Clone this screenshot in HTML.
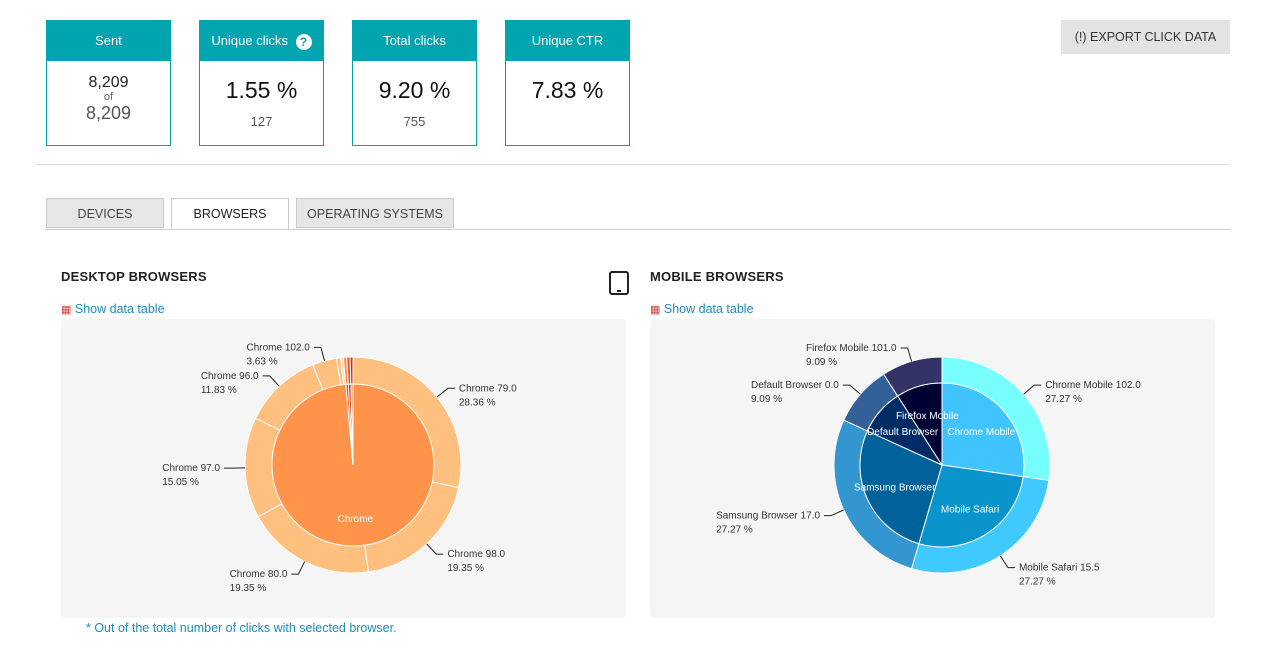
<!DOCTYPE html>
<html><head><meta charset="utf-8"><style>
body{margin:0;width:1268px;height:654px;background:#fff;font-family:"Liberation Sans",sans-serif;position:relative;overflow:hidden;color:#222}
.card{position:absolute;top:20px;width:123px;height:124px;border:1px solid #00a5b0;background:#fff}
.card .h{height:40px;background:#00a5b0;color:#fff;font-size:13px;text-align:center;line-height:40px}
.card .v{text-align:center;font-size:23px;color:#111;margin-top:16px}
.card .s{text-align:center;font-size:13px;color:#555;margin-top:10px}
.tab{position:absolute;top:198px;height:30px;line-height:31px;text-align:center;font-size:12.5px;color:#444;border:1px solid #ccc;box-sizing:border-box}
.ttl{position:absolute;top:269px;font-size:13px;font-weight:bold;color:#222;letter-spacing:.2px}
.lnk{position:absolute;top:302px;font-size:12.5px;color:#1a8cbf}
.panel{position:absolute;top:319px;width:565px;height:299px;background:#f5f5f5;border-radius:4px}
</style></head><body>
<div class="card" style="left:46px"><div class="h">Sent</div>
<div style="text-align:center;font-size:16px;margin-top:13px;color:#222">8,209</div><div style="text-align:center;font-size:11px;color:#666;line-height:11px">of</div><div style="text-align:center;font-size:18px;color:#555">8,209</div></div>
<div class="card" style="left:199px"><div class="h">Unique clicks <span style="display:inline-block;width:16px;height:16px;border-radius:50%;background:#fff;color:#00a5b0;font-size:12px;line-height:16px;font-weight:bold;vertical-align:middle;margin-left:4px">?</span></div><div class="v">1.55 %</div><div class="s">127</div></div>
<div class="card" style="left:352px"><div class="h">Total clicks</div><div class="v">9.20 %</div><div class="s">755</div></div>
<div class="card" style="left:505px"><div class="h">Unique CTR</div><div class="v">7.83 %</div></div>
<div style="position:absolute;left:1061px;top:20px;width:169px;height:34px;background:#e3e3e3;font-size:12.5px;color:#333;text-align:center;line-height:34px">(!) EXPORT CLICK DATA</div>
<div style="position:absolute;left:36px;top:164px;width:1195px;height:1px;background:#ddd"></div>
<div class="tab" style="left:46px;width:118px;background:#e6e6e6">DEVICES</div>
<div class="tab" style="left:171px;width:118px;background:#fff;border-bottom:none;height:31px;color:#222">BROWSERS</div>
<div class="tab" style="left:296px;width:158px;background:#e6e6e6">OPERATING SYSTEMS</div>
<div style="position:absolute;left:46px;top:229px;width:1185px;height:1px;background:#ccc"></div>
<div class="ttl" style="left:61px">DESKTOP BROWSERS</div>
<div class="ttl" style="left:650px">MOBILE BROWSERS</div>
<div style="position:absolute;left:609px;top:271px;width:16px;height:20px;border:2px solid #222;border-radius:3px"><div style="position:absolute;left:6px;bottom:1px;width:4px;height:2px;background:#222"></div></div>
<div class="lnk" style="left:61px"><span style="font-size:11px;color:#c44">&#9638;</span> Show data table</div>
<div class="lnk" style="left:650px"><span style="font-size:11px;color:#c44">&#9638;</span> Show data table</div>
<div class="panel" style="left:61px"></div>
<div class="panel" style="left:650px"></div>
<div style="position:absolute;left:86px;top:621px;font-size:12.5px;color:#1a8cbf">* Out of the total number of clicks with selected browser.</div>
<svg id="svg" width="1268" height="654" style="position:absolute;left:0;top:0"></svg>
<script>
const dInnerNames=['Chrome','Other A','Other B','Other C'];
const dInnerVals=[98.6,0.5,0.5,0.4];
const dInnerColors=['#ff934a','#e8542e','#cc3300','#ff7a30'];
const dOuterNames=['Chrome 79.0','Chrome 98.0','Chrome 80.0','Chrome 97.0','Chrome 96.0','Chrome 102.0','v1','v2','v3','v4','v5'];
const dOuterVals=[28.36,19.35,19.35,15.05,11.83,3.63,0.6,0.4,0.5,0.5,0.43];
const dOuterColors=['#ffc07f','#ffc07f','#ffc07f','#ffc07f','#ffc07f','#ffc07f','#ffc07f','#ffd9b0','#ff934a','#e8542e','#cc3300'];
const dOuterLabeled=[1,1,1,1,1,1,0,0,0,0,0];
const mInnerNames=['Chrome Mobile','Mobile Safari','Samsung Browser','Default Browser','Firefox Mobile'];
const mInnerVals=[27.27,27.27,27.27,9.09,9.09];
const mInnerColors=['#40c4ff','#0a94cc','#00629b','#002c66','#000033'];
const mOuterNames=['Chrome Mobile 102.0','Mobile Safari 15.5','Samsung Browser 17.0','Default Browser 0.0','Firefox Mobile 101.0'];
const mOuterVals=[27.27,27.27,27.27,9.09,9.09];
const mOuterColors=['#77ffff','#40c9ff','#3396d1','#336099','#333366'];
const NS='http://www.w3.org/2000/svg';
const svg=document.getElementById('svg');
const later=[];
function mk(t,a){const e=document.createElementNS(NS,t);for(const k in a)e.setAttribute(k,a[k]);svg.appendChild(e);return e;}
function pt(cx,cy,r,f){const a=f*2*Math.PI;return [cx+r*Math.sin(a),cy-r*Math.cos(a)];}
function arc(cx,cy,r0,r1,f0,f1){const big=(f1-f0)>0.5?1:0;const a=pt(cx,cy,r1,f0),b=pt(cx,cy,r1,f1);
 if(r0===0)return `M${cx},${cy}L${a[0]},${a[1]}A${r1},${r1} 0 ${big} 1 ${b[0]},${b[1]}Z`;
 const c=pt(cx,cy,r0,f1),d=pt(cx,cy,r0,f0);
 return `M${a[0]},${a[1]}A${r1},${r1} 0 ${big} 1 ${b[0]},${b[1]}L${c[0]},${c[1]}A${r0},${r0} 0 ${big} 0 ${d[0]},${d[1]}Z`;}
function ring(cx,cy,r0,r1,vals,cols,names,mode,labeled,nm){
 const tot=vals.reduce((a,b)=>a+b,0);let acc=0;
 vals.forEach((v,i)=>{const f0=acc/tot,f1=(acc+v)/tot;acc+=v;
  const p=mk('path',{d:arc(cx,cy,r0,r1,f0,f1),fill:cols[i],stroke:'#fff','stroke-width':1});
  
  
  const fm=(f0+f1)/2;
  if(mode==='inner'&&(labeled?labeled[i]:1)){later.push(()=>{const q=pt(cx,cy,52,fm);
   const t=mk('text',{x:q[0],y:q[1]+4,'text-anchor':'middle','font-size':10,fill:'#fff'});t.textContent=names[i];
   
   });}
  if(mode==='outer'&&(labeled?labeled[i]:1)){later.push(()=>{const a=pt(cx,cy,r1,fm),b=pt(cx,cy,r1+14,fm);const right=b[0]>=cx;
   const ex=b[0]+(right?7:-7);
   const l=mk('path',{d:`M${a[0]},${a[1]}L${b[0]},${b[1]}L${ex},${b[1]}`,fill:'none',stroke:'#222','stroke-width':1});
   
   
   const tx=ex+(right?4:-4),anc=right?'start':'end';
   const t=mk('text',{x:tx,y:b[1]+3,'text-anchor':anc,'font-size':10,fill:'#333'});t.textContent=names[i];
   
   
   const sx=right?tx:tx-t.getComputedTextLength();
   const t2=mk('text',{x:sx,y:b[1]+17,'text-anchor':'start','font-size':10,fill:'#333'});t2.textContent=(v/tot*100).toFixed(2)+' %';
   
   });}
 });}
ring(353,465,81,108,dOuterVals,dOuterColors,dOuterNames,'outer',dOuterLabeled,'desktop-outer');
ring(353,465,0,81,dInnerVals,dInnerColors,dInnerNames,'none',null,'desktop-inner');
ring(942,465,82,108,mOuterVals,mOuterColors,mOuterNames,'outer',null,'mobile-outer');
ring(942,465,0,82,mInnerVals,mInnerColors,mInnerNames,'inner',null,'mobile-inner');
later.forEach(f=>f());
(function(){const q=pt(353,465,53,dInnerVals[0]/dInnerVals.reduce((a,b)=>a+b,0)/2);const t=mk('text',{x:q[0],y:q[1]+4,'text-anchor':'middle','font-size':10,fill:'#fff'});t.textContent=dInnerNames[0];

})();
</script>
</body></html>
